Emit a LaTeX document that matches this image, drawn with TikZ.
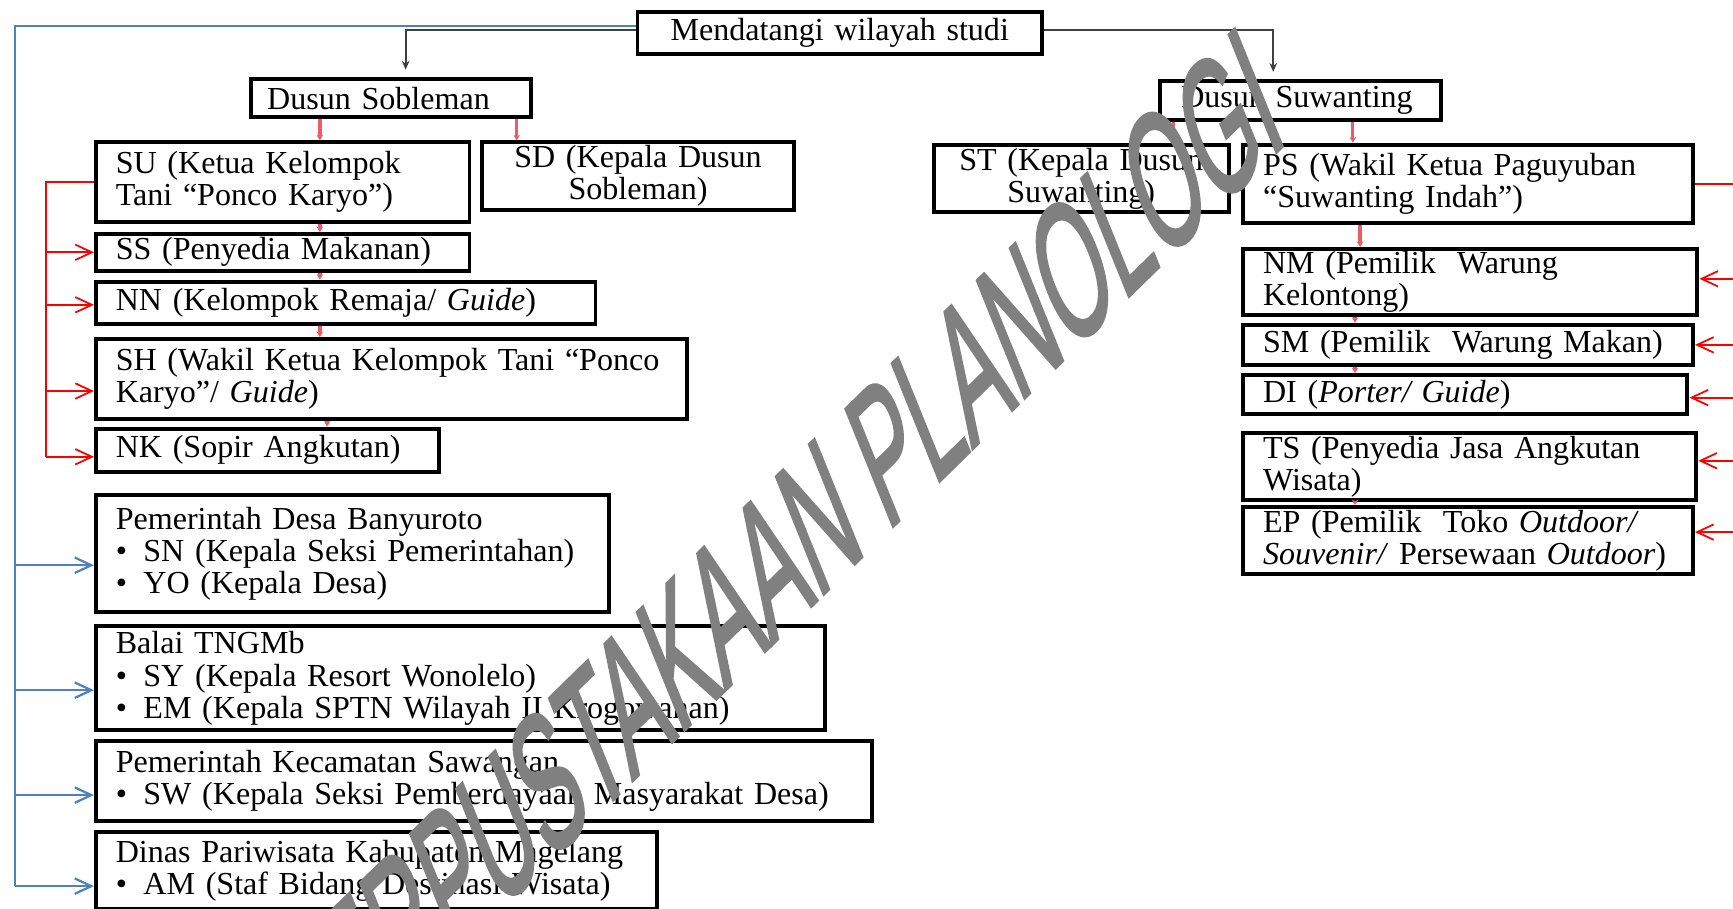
\documentclass[tikz,border=0pt]{standalone}
\usepackage{fontspec}
\setmainfont{Liberation Serif}
\newfontfamily\wmfont[FakeBold=2]{Liberation Sans}
\usetikzlibrary{arrows.meta}
\definecolor{wmgrey}{RGB}{128,128,128}
\definecolor{linkblue}{RGB}{79,129,189}
\definecolor{linkred}{RGB}{255,0,0}
\definecolor{subred}{RGB}{240,90,100}
\definecolor{darkline}{RGB}{64,64,64}
\newcommand\bul{\makebox[12.5pt][l]{\textbullet}}
\begin{document}
\begin{tikzpicture}[x=0.5pt, y=-0.5pt,
  box/.style={draw, line width=1.8pt, anchor=north west, inner xsep=9pt,
    inner ysep=0pt, align=left, font=\fontsize{14.5}{14.5}\selectfont},
  blk/.style={draw=darkline, line width=0.9pt, -{Stealth[length=4pt,width=3.5pt]}},
  redsub/.style={draw=subred, line width=1.5pt, -{Stealth[length=2.5pt,width=3pt]}},
  redline/.style={draw=linkred, line width=0.8pt},
  redarr/.style={redline, -{Straight Barb[length=7.5pt,width=7pt]}},
  blueline/.style={draw=linkblue, line width=1pt},
  bluearr/.style={blueline, -{Straight Barb[length=7.5pt,width=7pt]}}]
\useasboundingbox (0,0) rectangle (1568,822);

% ---- boxes ----
\node[box, minimum width=183pt, minimum height=19pt, text width=165pt, align=center] (top) at (575,9) {Mendatangi wilayah studi};

\node[box, inner xsep=7.5pt, minimum width=127pt, minimum height=17pt, text width=112pt] (sob) at (225,70) {Dusun Sobleman};
\node[box, inner xsep=9.5pt, minimum width=127pt, minimum height=17.7pt, text width=108pt] (suw) at (1048,71.6) {Dusun Suwanting};

\node[box, minimum width=169pt, minimum height=36pt, text width=151pt] (su) at (85,127) {SU (Ketua Kelompok\\Tani “Ponco Karyo”)};
\node[box, minimum width=141.5pt, minimum height=30.5pt, text width=123.5pt, align=center] (sd) at (434,127) {SD (Kepala Dusun\\Sobleman)};
\node[box, minimum width=169pt, minimum height=16.5pt, text width=151pt] (ss) at (85,210) {SS (Penyedia Makanan)};
\node[box, minimum width=226pt, minimum height=19pt, text width=208pt] (nn) at (85,253) {NN (Kelompok Remaja/ \textit{Guide})};
\node[box, minimum width=267.5pt, minimum height=36pt, text width=249.5pt] (sh) at (85,305) {SH (Wakil Ketua Kelompok Tani “Ponco\\Karyo”/ \textit{Guide})};
\node[box, minimum width=155pt, minimum height=19.5pt, text width=137pt] (nk) at (85,386) {NK (Sopir Angkutan)};

\node[box, minimum width=232pt, minimum height=53pt, text width=214pt] (desa) at (85,446) {Pemerintah Desa Banyuroto\\\bul SN (Kepala Seksi Pemerintahan)\\\bul YO (Kepala Desa)};
\node[box, minimum width=330pt, minimum height=47pt, text width=312pt] (balai) at (85,565) {Balai TNGMb\\\bul SY (Kepala Resort Wonolelo)\\\bul EM (Kepala SPTN Wilayah II Krogowanan)};
\node[box, minimum width=351pt, minimum height=36pt, text width=333pt] (kec) at (85,669) {Pemerintah Kecamatan Sawangan\\\bul SW (Kepala Seksi Pemberdayaan Masyarakat Desa)};
\node[box, minimum width=254pt, minimum height=35pt, text width=236pt] (dinas) at (85,751) {Dinas Pariwisata Kabupaten Magelang\\\bul AM (Staf Bidang Destinasi Wisata)};

\node[box, minimum width=133.5pt, minimum height=30.25pt, text width=115.5pt, align=center] (st) at (843,129.5) {ST (Kepala Dusun\\Suwanting)};
\node[box, minimum width=203.5pt, minimum height=35.5pt, text width=185.5pt] (ps) at (1123,129) {PS (Wakil Ketua Paguyuban\\“Suwanting Indah”)};
\node[box, minimum width=205.5pt, minimum height=29.75pt, text width=187.5pt] (nm) at (1123,223.5) {NM (Pemilik\ \ Warung\\Kelontong)};
\node[box, minimum width=203.5pt, minimum height=18.25pt, text width=185.5pt] (sm) at (1123,292) {SM (Pemilik\ \ Warung Makan)};
\node[box, minimum width=201pt, minimum height=17.5pt, text width=183pt] (di) at (1123,337.5) {DI (\textit{Porter/ Guide})};
\node[box, minimum width=205pt, minimum height=30.3pt, text width=187pt] (ts) at (1123,390) {TS (Penyedia Jasa Angkutan\\Wisata)};
\node[box, minimum width=203.5pt, minimum height=30.25pt, text width=185.5pt] (ep) at (1123,457) {EP (Pemilik\ \ Toko \textit{Outdoor/}\\\textit{Souvenir/} Persewaan \textit{Outdoor})};

% ---- guide columns for the connectors ----
\coordinate (cA) at (289.4,0);
\coordinate (cB) at (467.5,0);
\coordinate (cC) at (1062,0);
\coordinate (cD) at (1224,0);
\coordinate (cE) at (296,0);
\coordinate (cF) at (1226,0);
\coordinate (cG) at (1230.6,0);
\coordinate (cBlue) at (13.6,0);
\coordinate (cRed) at (41.3,0);
\coordinate (cRedR) at (1574,0);
\coordinate (cBlkL) at (367,0);
\coordinate (cBlkR) at (1152,0);

% ---- top level ----
\draw[blk, shorten >=3.5pt] ([yshift=1.2pt]top.west) -| (cBlkL |- sob.north);
\draw[blk, shorten >=3.3pt] ([yshift=1.25pt]top.east) -| (cBlkR |- suw.north);

% ---- hamlet to respondents ----
\draw[redsub] (sob.south -| cA) -- (su.north -| cA);
\draw[redsub] (sob.south -| cB) -- (sd.north -| cB);
\draw[redsub] (suw.south -| cC) -- (st.north -| cC);
\draw[redsub] (suw.south -| cD) -- (ps.north -| cD);

\draw[redsub] (su.south -| cA) -- (ss.north -| cA);
\draw[redsub] (ss.south -| cA) -- (nn.north -| cA);
\draw[redsub] (nn.south -| cA) -- (sh.north -| cA);
\draw[redsub] (sh.south -| cE) -- (nk.north -| cE);

\draw[redsub] (ps.south -| cG) -- (nm.north -| cG);
\draw[redsub] (nm.south -| cF) -- (sm.north -| cF);
\draw[redsub] (sm.south -| cF) -- (di.north -| cF);
\draw[redsub] (ts.south -| cF) -- (ep.north -| cF);

% ---- snowball links, Sobleman ----
\coordinate (pNN) at ([yshift=-1pt]nn.west);
\coordinate (pSH) at ([yshift=-5.5pt]sh.west);
\coordinate (pNK) at ([yshift=-3pt]nk.west);
\draw[redline] (su.west) -- (cRed |- su.west) -- (cRed |- pNK);
\draw[redarr] (cRed |- ss.west) -- (ss.west);
\draw[redarr] (cRed |- pNN) -- (pNN);
\draw[redarr] (cRed |- pSH) -- (pSH);
\draw[redarr] (cRed |- pNK) -- (pNK);

% ---- snowball links, Suwanting ----
\coordinate (pNM) at ([yshift=1.4pt]nm.east);
\coordinate (pDI) at ([yshift=-1.5pt]di.east);
\coordinate (pTS) at ([yshift=2.6pt]ts.east);
\coordinate (pEP) at ([yshift=3.8pt]ep.east);
\draw[redline] (ps.east) -- (cRedR |- ps.east) -- (cRedR |- pEP);
\draw[redarr] (cRedR |- pNM) -- (pNM);
\draw[redarr] (cRedR |- sm.east) -- (sm.east);
\draw[redarr] (cRedR |- pDI) -- (pDI);
\draw[redarr] (cRedR |- pTS) -- (pTS);
\draw[redarr] (cRedR |- pEP) -- (pEP);

% ---- institutions ----
\coordinate (pDesa) at ([yshift=-5.3pt]desa.west);
\coordinate (pBalai) at ([yshift=-5.35pt]balai.west);
\coordinate (pKec) at ([yshift=-6.3pt]kec.west);
\coordinate (pDinas) at ([yshift=-7pt]dinas.west);
\draw[blueline] ([yshift=3.15pt]top.west) -| (cBlue |- pDinas);
\draw[bluearr] (cBlue |- pDesa) -- (pDesa);
\draw[bluearr] (cBlue |- pBalai) -- (pBalai);
\draw[bluearr] (cBlue |- pKec) -- (pKec);
\draw[bluearr] (cBlue |- pDinas) -- (pDinas);

% ---- library stamp ----
\begin{scope}[shift={(279.3,992.3)}, cm={0.379,0.370,-0.375,0.927,(0,0)}]
  \node[transform shape, anchor=base west, inner sep=0pt, text=wmgrey,
    font=\wmfont\fontsize{83}{83}\selectfont] (stamp) at (0,0) {PERPUSTAKAAN PLANOLOGI};
\end{scope}
\end{tikzpicture}
\end{document}
